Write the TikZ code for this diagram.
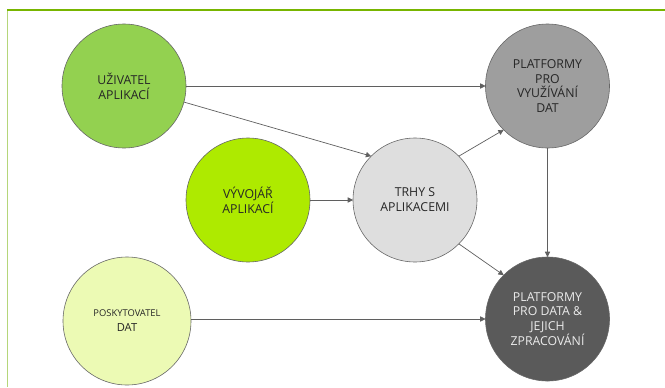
\documentclass[tikz,border=0pt]{standalone}
\usepackage{fontspec}
\setmainfont{Open Sans}
\usepackage{xcolor}
\usepackage{tikz}
\usetikzlibrary{arrows.meta}
\usetikzlibrary{positioning}

\definecolor{ramec}{HTML}{78B500}
\definecolor{ramecsv}{HTML}{B5D67A}
\definecolor{uziv}{HTML}{93D150}
\definecolor{vyvoj}{HTML}{AEEA00}
\definecolor{poskyt}{HTML}{ECFAB4}
\definecolor{trhy}{HTML}{DEDEDE}
\definecolor{pvyuz}{HTML}{9E9E9E}
\definecolor{pdata}{HTML}{5A5A5A}
\definecolor{sipka}{HTML}{5F5F5F}

\begin{document}
\begin{tikzpicture}[
      >={Triangle[width=4.5pt,length=4.5pt]},
      x=0.03cm, y=-0.03cm,
      kruh/.style={circle, draw=black!60, line width=0.5pt, minimum size=3.72cm,
        inner sep=0pt, outer sep=0pt, align=center, text=black!85,
        font=\fontsize{10.5}{12.7}\selectfont},
      spoj/.style={->, sipka, line width=0.6pt}
    ]
    \useasboundingbox (0,0) rectangle (665,387);

    % Ramecek
    \draw[ramecsv, line width=1.3pt] (7.5,10) -- (7.5,387);
    \draw[ramec, line width=1pt] (7,10) -- (665,10);

    % Kruhy
    \node[kruh, fill=uziv] (uziv) at (124,86) {UŽIVATEL\\APLIKACÍ};
    \node[kruh, fill=pvyuz] (pvyuz) at (547.5,86) {PLATFORMY\\PRO\\VYUŽÍVÁNÍ\\DAT};
    \node[kruh, fill=vyvoj] (vyvoj) at (248,200) {VÝVOJÁŘ\\APLIKACÍ};
    \node[kruh, fill=trhy] (trhy) at (415,200) {TRHY S\\APLIKACEMI};
    \node[kruh, fill=poskyt, minimum size=3.84cm] (poskyt) at (127,321)
      {{\fontsize{8}{10}\selectfont POSKYTOVATEL}\\{\fontsize{9.5}{11}\selectfont DAT}};
    \node[kruh, fill=pdata, text=white!92!black] (pdata) at (547.5,319)
      {PLATFORMY\\PRO DATA \&\\JEJICH\\ZPRACOVÁNÍ};

    % Sipky
    \draw[spoj] (uziv) -- (pvyuz);
    \draw[spoj] (uziv.-15) -- (trhy.135);
    \draw[spoj] (vyvoj) -- (trhy);
    \draw[spoj] (trhy.45) -- (pvyuz.225);
    \draw[spoj] (trhy.-45) -- (pdata.135);
    \draw[spoj] (pvyuz) -- (pdata);
    \draw[spoj] (poskyt.east |- pdata.west) -- (pdata.west);
  \end{tikzpicture}
\end{document}
